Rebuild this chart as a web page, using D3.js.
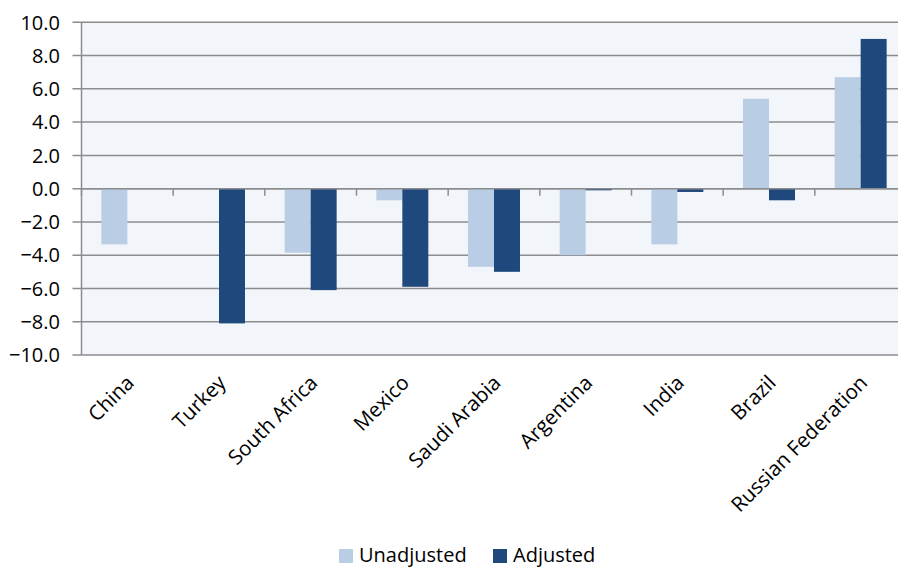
<!DOCTYPE html>
<html>
<head>
<meta charset="utf-8">
<script src="https://cdn.jsdelivr.net/npm/d3@7"></script>
<style>
  body { margin: 0; background: #fff; }
  text { font-family: "Open Sans", sans-serif; fill: #000; }
</style>
</head>
<body>
<script>
var categories = ["China", "Turkey", "South Africa", "Mexico", "Saudi Arabia", "Argentina", "India", "Brazil", "Russian Federation"];
var series = ["Unadjusted", "Adjusted"];
var unadjusted = [-3.35, null, -3.85, -0.7, -4.7, -4.0, -3.35, 5.4, 6.7];
var adjusted = [null, -8.1, -6.1, -5.9, -5.0, -0.1, -0.2, -0.7, 9.0];
var yTicks = [10, 8, 6, 4, 2, 0, -2, -4, -6, -8, -10];
var colors = ["#b9cde5", "#1f497d"];

var width = 898,
    height = 567;

var plotLeft = 81.5, plotRight = 906.5, plotTop = 22.3, plotBottom = 355;

var svg = d3.select("body").append("svg")
    .attr("width", width)
    .attr("height", height);

var x0 = d3.scaleBand()
    .domain(categories)
    .range([plotLeft, plotRight])
    .paddingInner(0.433)
    .paddingOuter(0.2165);

var x1 = d3.scaleBand()
    .domain(series)
    .range([0, x0.bandwidth()]);

var y = d3.scaleLinear()
    .domain([-10, 10])
    .range([plotBottom, plotTop]);

// plot background
svg.append("rect")
    .attr("x", plotLeft)
    .attr("y", plotTop)
    .attr("width", plotRight - plotLeft)
    .attr("height", plotBottom - plotTop)
    .attr("fill", "#f2f5fa");

// gridlines
svg.append("g")
    .selectAll("line")
    .data(yTicks)
    .enter()
    .append("line")
    .attr("x1", plotLeft - 9)
    .attr("x2", plotRight)
    .attr("y1", function(d) { return y(d); })
    .attr("y2", function(d) { return y(d); })
    .attr("stroke", "#8c8c8c")
    .attr("stroke-width", 1.5);

// y axis line
svg.append("line")
    .attr("x1", plotLeft).attr("x2", plotLeft)
    .attr("y1", plotTop).attr("y2", plotBottom)
    .attr("stroke", "#8c8c8c")
    .attr("stroke-width", 1.5);

// y labels
svg.append("g")
    .selectAll("text")
    .data(yTicks)
    .enter()
    .append("text")
    .attr("x", 60)
    .attr("y", function(d) { return y(d); })
    .attr("dy", "0.36em")
    .attr("text-anchor", "end")
    .style("font-size", "20px")
    .text(function(d) { return d3.format(".1f")(d); });

var rows = categories.map(function(c, i) {
    return { name: c, values: [unadjusted[i], adjusted[i]] };
});

var groups = svg.append("g")
    .selectAll("g")
    .data(rows)
    .enter()
    .append("g")
    .attr("transform", function(d) { return "translate(" + x0(d.name) + ",0)"; });

groups.selectAll("rect")
    .data(function(d) {
        return d.values.map(function(v, j) { return { key: series[j], value: v, j: j }; })
            .filter(function(e) { return e.value !== null; });
    })
    .enter()
    .append("rect")
    .attr("x", function(d) { return x1(d.key); })
    .attr("width", x1.bandwidth())
    .attr("y", function(d) { return y(Math.max(0, d.value)); })
    .attr("height", function(d) { return Math.abs(y(d.value) - y(0)); })
    .attr("fill", function(d) { return colors[d.j]; });

// zero line and category tick marks
svg.append("line")
    .attr("x1", plotLeft).attr("x2", plotRight)
    .attr("y1", y(0)).attr("y2", y(0))
    .attr("stroke", "#8c8c8c")
    .attr("stroke-width", 1.5);

var step = x0.step();
svg.append("g")
    .selectAll("line")
    .data(d3.range(categories.length + 1))
    .enter()
    .append("line")
    .attr("x1", function(i) { return plotLeft + i * step; })
    .attr("x2", function(i) { return plotLeft + i * step; })
    .attr("y1", y(0))
    .attr("y2", y(0) + 7)
    .attr("stroke", "#8c8c8c")
    .attr("stroke-width", 1.5);

// category labels
svg.append("g")
    .selectAll("text")
    .data(categories)
    .enter()
    .append("text")
    .attr("transform", function(d) {
        return "translate(" + (x0(d) + x0.bandwidth() / 2 + 3) + ",379) rotate(-45)";
    })
    .attr("text-anchor", "end")
    .attr("dy", "0.35em")
    .style("font-size", "20.5px")
    .text(function(d) { return d; });

// legend
var legend = svg.append("g");
var legendX = [339, 493];
series.forEach(function(s, i) {
    legend.append("rect")
        .attr("x", legendX[i])
        .attr("y", 549)
        .attr("width", 14)
        .attr("height", 14)
        .attr("fill", colors[i]);
    legend.append("text")
        .attr("x", legendX[i] + 20)
        .attr("y", 555)
        .attr("dy", "0.36em")
        .style("font-size", "20px")
        .text(s);
});
</script>
</body>
</html>
